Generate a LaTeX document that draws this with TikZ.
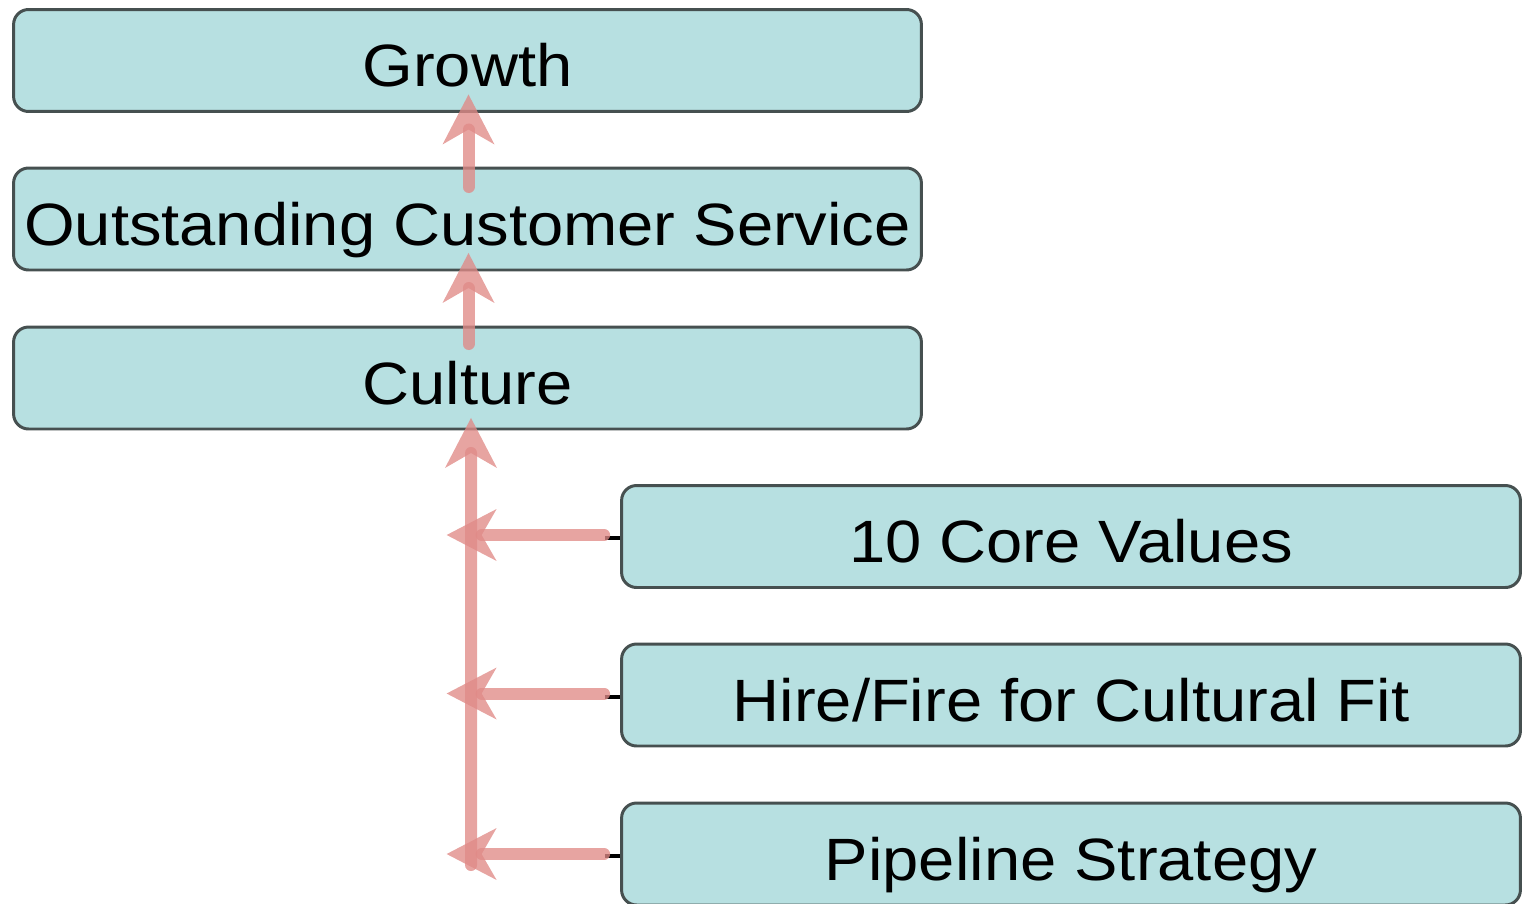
\documentclass[tikz,border=0pt]{standalone}
\usepackage{fontspec}
\setmainfont{Liberation Sans}[FakeStretch=1.09]
\usetikzlibrary{arrows.meta}

\definecolor{boxfill}{RGB}{183,224,225}
\definecolor{boxline}{RGB}{70,80,80}
\definecolor{flowpink}{RGB}{224,138,135}

\tikzset{
  stage/.style={draw=boxline, line width=1.7pt, fill=boxfill, rounded corners=0.3cm,
    minimum height=2.04cm, inner sep=0pt, text=black,
    font=\fontsize{34}{40}\selectfont, text height=30pt, text depth=0pt},
  leftcol/.style={stage, minimum width=18.16cm},
  rightcol/.style={stage, minimum width=17.98cm},
  flow/.style={draw=flowpink, opacity=0.78, line width=0.24cm, line cap=round,
    -{Stealth[length=1cm, width=1.04cm, inset=0.3cm, line width=0pt]}},
  stub/.style={draw=black, line width=0.08cm}
}

\begin{document}
\begin{tikzpicture}[x=0.02cm, y=-0.02cm]
  \useasboundingbox (0,0) rectangle (1524,903);

  % upper chain
  \node[leftcol] (growth)  at (467.5, 60.5) {Growth};
  \node[leftcol] (service) at (467.5, 219)  {Outstanding Customer Service};
  \node[leftcol] (culture) at (467.5, 378)  {Culture};

  % drivers of culture
  \node[rightcol] (values) at (1071, 536.5) {10 Core Values};
  \node[rightcol] (hire)   at (1071, 695)   {Hire/Fire for Cultural Fit};
  \node[rightcol] (pipe)   at (1071, 854)   {Pipeline Strategy};

  % short black stubs on the driver boxes
  \foreach \b in {values, hire, pipe}
    \draw[stub] ([yshift=-0.03cm]\b.west) -- ([xshift=-0.3cm, yshift=-0.03cm]\b.west);

  % vertical links between the stacked boxes
  \draw[flow] ([xshift=0.02cm, yshift=-0.41cm]service.north) -- ([xshift=0.02cm, yshift=0.37cm]growth.south);
  \draw[flow] ([xshift=0.02cm, yshift=-0.37cm]culture.north) -- ([xshift=0.02cm, yshift=0.37cm]service.south);

  % trunk into culture
  \coordinate (trunk) at (471, 865);
  \draw[flow] (trunk) -- ([xshift=0.07cm, yshift=0.25cm]culture.south);

  % branches from the drivers
  \draw[flow] ([xshift=-0.32cm, yshift=0.03cm]values.west) -- ([xshift=-3.47cm, yshift=0.03cm]values.west);
  \draw[flow] ([xshift=-0.32cm, yshift=0.03cm]hire.west) -- ([xshift=-3.47cm, yshift=0.03cm]hire.west);
  \draw[flow] ([xshift=-0.32cm]pipe.west) -- ([xshift=-3.47cm]pipe.west);
\end{tikzpicture}
\end{document}
